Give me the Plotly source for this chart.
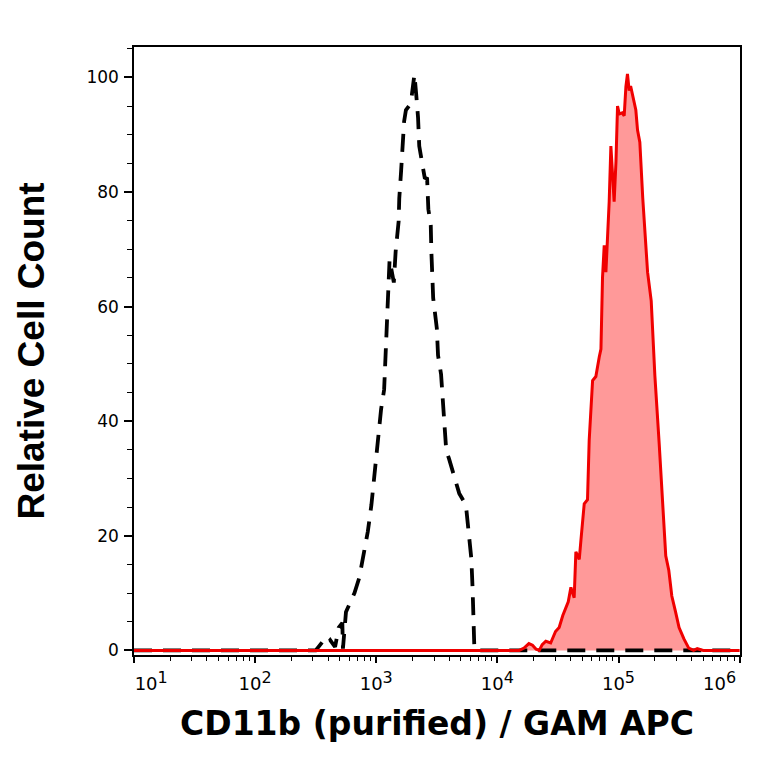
import numpy as np
import plotly.graph_objects as go

# ---- data (x in log10 units of fluorescence intensity, y = relative cell count) ----
iso_log10 = [1.0, 2.50, 2.53, 2.56, 2.59, 2.62, 2.66, 2.69, 2.72, 2.725, 2.75, 2.79, 2.82,
             2.86, 2.90, 2.93, 2.96, 2.98, 3.00, 3.02, 3.04, 3.065, 3.075, 3.09, 3.105,
             3.11, 3.145, 3.16, 3.185, 3.19, 3.205, 3.215, 3.23, 3.245, 3.27, 3.29, 3.305,
             3.315, 3.33, 3.345, 3.355, 3.37, 3.385, 3.40, 3.42, 3.43, 3.45, 3.455, 3.465,
             3.47, 3.50, 3.51, 3.535, 3.55, 3.57, 3.578, 3.60, 3.63, 3.645, 3.685, 3.74,
             3.765, 3.785, 3.795, 3.80, 3.81, 3.83, 6.0]
iso_count = [0, 0, 0.8, 1.6, 1.0, 1.8, 0.6, 4.0, 4.8, 0.3, 6.7, 8.7, 10.0,
             12.7, 17.4, 20.7, 25.4, 29.4, 33.4, 37.5, 42.1, 45.5, 50.2, 56.0, 62.2,
             68.2, 64.2, 69.6, 74.9, 78.9, 83.6, 88.0, 92.3, 94.3, 95.0, 96.3, 98.5,
             100.5, 97.0, 93.0, 88.0, 85.5, 84.3, 82.5, 82.3, 77.0, 74.2, 69.6, 65.6,
             61.5, 56.2, 51.5, 48.2, 43.5, 39.5, 34.8, 33.5, 31.4, 30.1, 27.4, 25.4,
             20.7, 16.0, 11.0, 6.0, 0.3, 0, 0]

cd11b_log10 = [1.0, 4.15, 4.18, 4.22, 4.26, 4.29, 4.32, 4.346, 4.37, 4.40, 4.44, 4.48, 4.51,
               4.54, 4.565, 4.585, 4.607, 4.634, 4.648, 4.676, 4.69, 4.717, 4.744, 4.758,
               4.786, 4.813, 4.841, 4.855, 4.868, 4.882, 4.896, 4.909, 4.923, 4.937, 4.95,
               4.964, 4.979, 4.992, 5.006, 5.03, 5.047, 5.061, 5.074, 5.088, 5.10, 5.115,
               5.143, 5.157, 5.176, 5.20, 5.24, 5.27, 5.30, 5.336, 5.363, 5.39, 5.415,
               5.44, 5.47, 5.50, 5.54, 5.58, 5.62, 5.65, 5.70, 6.0]
cd11b_count = [0, 0, 0, 0.4, 1.2, 0.9, 0.2, 0, 1.0, 1.6, 1.3, 3.3, 4.0,
               6.1, 7.5, 8.5, 11.0, 9.2, 17.2, 15.9, 19.3, 25.6, 26.3, 36.7,
               47.1, 47.8, 51.2, 52.6, 65.1, 70.7, 66.0, 71.0, 78.3, 88.0, 82.0,
               78.3, 85.3, 95.0, 93.6, 93.8, 93.3, 98.4, 100.6, 97.7, 98.5, 97.0,
               94.3, 90.8, 88.7, 79.0, 66.0, 61.0, 48.0, 36.0, 25.0, 16.5, 14.0,
               9.5, 6.8, 4.0, 2.0, 0.4, 0, 0.3, 0, 0]

x_tick_exp = [1, 2, 3, 4, 5, 6]
y_tick_vals = [0, 20, 40, 60, 80, 100]

iso_x = np.power(10.0, iso_log10)
cd_x = np.power(10.0, cd11b_log10)

fig = go.Figure()
# red filled histogram (fill only)
fig.add_trace(go.Scatter(x=cd_x, y=cd11b_count, mode="lines", fill="tozeroy",
                         fillcolor="rgba(255,0,0,0.40)", line=dict(width=0, color="rgba(0,0,0,0)"),
                         hoverinfo="skip", showlegend=False))
# isotype control, dashed black
fig.add_trace(go.Scatter(x=iso_x, y=iso_count, mode="lines",
                         line=dict(color="black", width=3.8, dash="18px,11px"),
                         showlegend=False))
# red outline on top
fig.add_trace(go.Scatter(x=cd_x, y=cd11b_count, mode="lines",
                         line=dict(color="#f00000", width=3.0), showlegend=False))

pad = "\u00a0"
xt_text = []
for e in x_tick_exp:
    t = "10<sup><span style='font-size:16px'>%d</span></sup>" % e
    if e == x_tick_exp[0]:
        t = pad * 6 + t
    elif e == x_tick_exp[-1]:
        t = t + pad * 7
    xt_text.append(t)

minor_vals = [k * 10.0 ** e for e in range(1, 6) for k in range(2, 10)]

fig.update_layout(
    width=756, height=756,
    margin=dict(l=126, r=24, t=39, b=109),
    paper_bgcolor="white", plot_bgcolor="white",
    showlegend=False,
)
fig.update_xaxes(
    type="log", range=[1.0, 6.003], automargin=False,
    tickvals=[10.0 ** e for e in x_tick_exp], ticktext=xt_text,
    ticks="outside", ticklen=6, tickwidth=1.5, tickcolor="black",
    ticklabelstandoff=6, ticklabeloverflow="allow",
    minor=dict(tickvals=minor_vals, ticks="outside", ticklen=4, tickwidth=1.2, tickcolor="black"),
    showline=True, linecolor="black", linewidth=1.5, mirror=True,
    showgrid=False, zeroline=False,
    tickfont=dict(family="DejaVu Sans", size=18, color="black"),
    title=dict(text="<b>CD11b (purified) / GAM APC</b>",
               font=dict(family="DejaVu Sans", size=33, color="black"), standoff=19),
)
fig.update_yaxes(
    range=[-0.8, 105.3],
    tickvals=y_tick_vals,
    ticks="outside", ticklen=8, tickwidth=1.5, tickcolor="black",
    ticklabelstandoff=2,
    minor=dict(dtick=5, ticks="outside", ticklen=5, tickwidth=1.2, tickcolor="black"),
    showline=True, linecolor="black", linewidth=1.5, mirror=True,
    showgrid=False, zeroline=False,
    tickfont=dict(family="DejaVu Sans", size=17, color="black"),
    title=dict(text="<b>Relative Cell Count</b>",
               font=dict(family="Liberation Sans", size=37, color="black"), standoff=30),
)

fig.write_html("out.html")
